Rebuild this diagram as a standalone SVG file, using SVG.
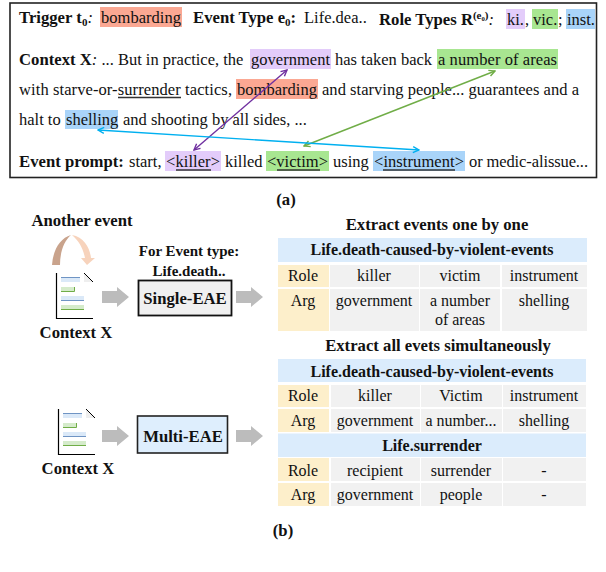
<svg xmlns="http://www.w3.org/2000/svg" width="606" height="572" viewBox="0 0 606 572">
<defs>
<style>
text{font-family:"Liberation Serif","Times New Roman",serif;font-size:16.5px;fill:#111;white-space:pre}
.b{font-weight:bold;font-size:16.700px}
.m{text-anchor:middle}
.c{font-size:16px}
.s{font-size:15px;font-weight:bold}
.sub{font-size:11px;font-weight:bold}
.red{fill:#fba893}.pur{fill:#e3ccfa}.grn{fill:#a8e691}.blu{fill:#a9d4f9}
.hd{fill:#dbecfc}.rl{fill:#fdefcb}.ce{fill:#f1f1f1}
.gr{fill:#bcbcbc}
.u{stroke:#333;stroke-width:1.3}
.docl{fill:none;stroke:#000;stroke-width:1.2}
</style>
<marker id="ap" viewBox="0 0 8 8" refX="7" refY="4" markerWidth="8" markerHeight="8" orient="auto-start-reverse" markerUnits="userSpaceOnUse"><path d="M1 1L7 4L1 7" fill="none" stroke="#7030a0" stroke-width="1.400"/></marker>
<marker id="ag" viewBox="0 0 8 8" refX="7" refY="4" markerWidth="8" markerHeight="8" orient="auto-start-reverse" markerUnits="userSpaceOnUse"><path d="M1 1L7 4L1 7" fill="none" stroke="#70ad47" stroke-width="1.400"/></marker>
<marker id="ab" viewBox="0 0 8 8" refX="7" refY="4" markerWidth="8" markerHeight="8" orient="auto-start-reverse" markerUnits="userSpaceOnUse"><path d="M1 1L7 4L1 7" fill="none" stroke="#00b0f0" stroke-width="1.400"/></marker>
<g id="doc">
<path class="docl" d="M0.5 0V45.5H37"/>
<path d="M28 0L37 9H28Z" fill="#eee"/><path d="M28 0L37 9" stroke="#000" stroke-width="1"/>
<rect x="5" y="4" width="19" height="5" fill="#dbe9f8"/><path d="M5 4.5H24" stroke="#6f94c4"/>
<rect x="5" y="14" width="13" height="5" fill="#d5ebcb"/><path d="M5 18.5H18.500V14" stroke="#70ad47" fill="none"/>
<rect x="5" y="23" width="23" height="5" fill="#dbe9f8"/><path d="M5 27.500H28" stroke="#6f94c4"/>
<rect x="5" y="32" width="23" height="5" fill="#d5ebcb"/><path d="M5 36.500H28" stroke="#70ad47"/>
</g>
<path id="garrow" class="gr" d="M0 -6H15V-10L27 0L15 10V6H0Z"/>
</defs>
<rect width="606" height="572" fill="#fff"/>

<g id="panel-a">
<rect x="10" y="3" width="586.500" height="174.500" fill="#fff" stroke="#222" stroke-width="1.600"/>
<rect class="red" x="100" y="7" width="82" height="20"/>
<rect class="pur" x="506" y="9" width="19" height="20"/>
<rect class="grn" x="532" y="9" width="26" height="20"/>
<rect class="blu" x="566" y="9" width="29" height="20"/>
<rect class="pur" x="250" y="49" width="81" height="20"/>
<rect class="grn" x="437" y="49" width="121" height="20"/>
<rect class="red" x="236" y="79" width="82" height="20"/>
<rect class="blu" x="65" y="110" width="53" height="19"/>
<rect class="pur" x="165" y="151" width="56" height="20"/>
<rect class="grn" x="266" y="151" width="63" height="20"/>
<rect class="blu" x="373" y="151" width="92" height="20"/>

<text x="19" y="23"><tspan class="b">Trigger t</tspan><tspan class="sub" dy="3">0</tspan><tspan dy="-3" font-style="italic">:</tspan></text>
<text x="101" y="23" textLength="80">bombarding</text>
<text x="193" y="23"><tspan class="b">Event Type e</tspan><tspan class="sub" dy="3">0</tspan><tspan class="b" dy="-3">:</tspan></text>
<text x="304" y="23">Life.dea..</text>
<text x="379" y="25"><tspan class="b">Role Types R</tspan><tspan class="sub" dy="-6">(e₀)</tspan><tspan dy="6" font-style="italic">:</tspan></text>
<text x="507" y="25">ki.</text><text x="525" y="25">,</text>
<text x="533" y="25">vic.</text><text x="558" y="25">;</text>
<text x="567" y="25">inst.</text>

<text x="19" y="65"><tspan class="b">Context X</tspan><tspan font-style="italic">:</tspan> ... But in practice, the</text>
<text x="251" y="65" textLength="79">government</text>
<text x="335" y="65">has taken back</text>
<text x="438" y="65" textLength="119">a number of areas</text>
<text x="19" y="95" textLength="213">with starve-or-surrender tactics,</text>
<text x="237" y="95" textLength="80">bombarding</text>
<text x="322" y="95" textLength="257">and starving people... guarantees and a</text>
<text x="19" y="125">halt to</text>
<text x="66" y="125">shelling</text>
<text x="123" y="125">and shooting by all sides, ...</text>
<text x="19" y="167"><tspan class="b">Event prompt:</tspan></text>
<text x="129" y="167">start,</text>
<text x="166" y="167" textLength="54">&lt;killer&gt;</text>
<text x="225" y="167">killed</text>
<text x="267" y="167" textLength="61">&lt;victim&gt;</text>
<text x="333" y="167">using</text>
<text x="374" y="167" textLength="90">&lt;instrument&gt;</text>
<text x="469" y="167" textLength="119">or medic-alissue...</text>
<path class="u" d="M118 97.500H181M176 170H211M277 170H320M383 170H455" fill="none"/>
<text class="b m" x="286" y="205">(a)</text>
</g>

<g id="connectors" fill="none" stroke-width="1.400">
<path d="M287 70L194 150" stroke="#7030a0" marker-start="url(#ap)" marker-end="url(#ap)"/>
<path d="M495 71L304 146" stroke="#70ad47" marker-start="url(#ag)" marker-end="url(#ag)"/>
<path d="M98 130L419 150" stroke="#00b0f0" marker-start="url(#ab)" marker-end="url(#ab)"/>
</g>

<g id="another-event">
<text class="b m" x="82" y="226">Another event</text>
<path d="M52 265C53 250 60 238 71 235C64 241 60 252 60 265Z" fill="#c9a38c"/>
<path d="M72 235C84 237 90 248 91 258H95L87 265L81 258H85C83 248 79 241 72 235Z" fill="#f7d3bc"/>
</g>
<g id="context-1"><use href="#doc" x="56" y="273"/><text class="b m" x="76" y="338">Context X</text></g>
<use href="#garrow" x="102" y="297"/>
<g id="single-eae">
<text class="s m" x="189" y="256">For Event type:</text>
<text class="s m" x="189" y="276">Life.death..</text>
<rect x="138.500" y="280.500" width="93" height="35" fill="#f0f0f0" stroke="#111" stroke-width="1.800"/>
<text class="b m" x="185" y="304">Single-EAE</text>
</g>
<use href="#garrow" x="236" y="297"/>

<g id="context-2"><use href="#doc" x="58" y="409"/><text class="b m" x="78" y="474">Context X</text></g>
<use href="#garrow" x="102" y="436"/>
<g id="multi-eae">
<rect x="137.500" y="416" width="90" height="37" fill="#deeefd" stroke="#222" stroke-width="1.600"/>
<text class="b m" x="183" y="442">Multi-EAE</text>
</g>
<use href="#garrow" x="236" y="436"/>

<g id="table-1">
<text class="b m" x="437" y="230">Extract events one by one</text>
<rect class="hd" x="278" y="238" width="309" height="24"/>
<rect class="rl" x="278" y="265" width="51" height="22"/><rect class="ce" x="330" y="265" width="89" height="22"/><rect class="ce" x="420" y="265" width="80" height="22"/><rect class="ce" x="502" y="265" width="85" height="22"/>
<rect class="rl" x="278" y="289" width="51" height="42"/><rect class="ce" x="330" y="289" width="89" height="42"/><rect class="ce" x="420" y="289" width="80" height="42"/><rect class="ce" x="502" y="289" width="85" height="42"/>
<text class="b m" x="432" y="255" style="font-size:16px">Life.death-caused-by-violent-events</text>
<text class="m c" x="303" y="281">Role</text><text class="m c" x="374" y="281">killer</text><text class="m c" x="460" y="281">victim</text><text class="m c" x="544" y="281">instrument</text>
<text class="m c" x="303" y="306">Arg</text><text class="m c" x="374" y="306">government</text><text class="m c" x="460" y="306">a number</text><text class="m c" x="460" y="325">of areas</text><text class="m c" x="544" y="306">shelling</text>
</g>

<g id="table-2">
<text class="b m" x="438" y="351">Extract all evets simultaneously</text>
<rect class="hd" x="278" y="359" width="308" height="23"/>
<rect class="rl" x="278" y="385" width="51" height="22"/><rect class="ce" x="331" y="385" width="89" height="22"/><rect class="ce" x="421" y="385" width="81" height="22"/><rect class="ce" x="503" y="385" width="83" height="22"/>
<rect class="rl" x="278" y="409" width="51" height="23"/><rect class="ce" x="331" y="409" width="89" height="23"/><rect class="ce" x="421" y="409" width="81" height="23"/><rect class="ce" x="503" y="409" width="83" height="23"/>
<rect class="hd" x="278" y="433.500" width="308" height="23.500"/>
<rect class="rl" x="278" y="458" width="51" height="23"/><rect class="ce" x="331" y="458" width="89" height="23"/><rect class="ce" x="421" y="458" width="81" height="23"/><rect class="ce" x="503" y="458" width="83" height="23"/>
<rect class="rl" x="278" y="483" width="51" height="23"/><rect class="ce" x="331" y="483" width="89" height="23"/><rect class="ce" x="421" y="483" width="81" height="23"/><rect class="ce" x="503" y="483" width="83" height="23"/>
<text class="b m" x="432" y="377" style="font-size:16px">Life.death-caused-by-violent-events</text>
<text class="m c" x="303" y="401">Role</text><text class="m c" x="375" y="401">killer</text><text class="m c" x="461" y="401">Victim</text><text class="m c" x="544" y="401">instrument</text>
<text class="m c" x="303" y="426">Arg</text><text class="m c" x="375" y="426">government</text><text class="m c" x="461" y="426">a number...</text><text class="m c" x="544" y="426">shelling</text>
<text class="b m" x="432" y="451" style="font-size:16px">Life.surrender</text>
<text class="m c" x="303" y="476">Role</text><text class="m c" x="375" y="476">recipient</text><text class="m c" x="461" y="476">surrender</text><text class="m c" x="544" y="476">-</text>
<text class="m c" x="303" y="500">Arg</text><text class="m c" x="375" y="500">government</text><text class="m c" x="461" y="500">people</text><text class="m c" x="544" y="500">-</text>
</g>
<text class="b m" x="283" y="536">(b)</text>
</svg>
